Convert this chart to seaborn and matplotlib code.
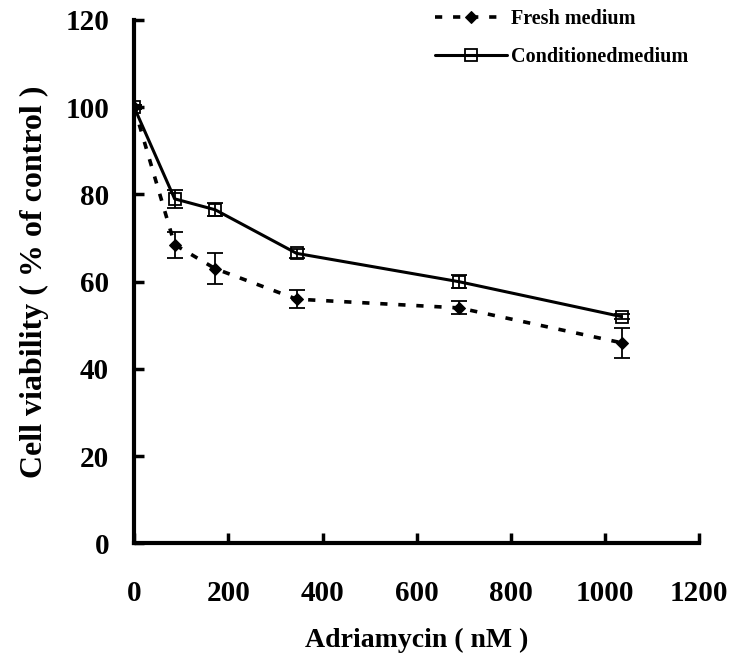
import numpy as np
import pandas as pd
import matplotlib
matplotlib.use("Agg")
import matplotlib.pyplot as plt
import seaborn as sns

conc = [0, 86, 172, 345, 690, 1035]
fresh = [100, 68.5, 63, 56, 54, 46]
fresh_err = [0.5, 3, 3.5, 2, 1.5, 3.5]
cond = [100, 79, 76.5, 66.5, 60, 52]
cond_err = [0.5, 2, 1.5, 1, 1.5, 0.5]
series_names = ["Fresh medium", "Conditionedmedium"]
xticks = [0, 200, 400, 600, 800, 1000, 1200]
yticks = [0, 20, 40, 60, 80, 100, 120]

sns.set_theme(style="white")
plt.rcParams['font.family'] = ['Liberation Serif', 'DejaVu Serif']
plt.rcParams['font.weight'] = 'bold'
plt.rcParams['text.color'] = 'black'
plt.rcParams['axes.labelcolor'] = 'black'
plt.rcParams['xtick.direction'] = 'in'
plt.rcParams['ytick.direction'] = 'in'

df = pd.DataFrame({
    "conc": conc * 2,
    "val": fresh + cond,
    "err": fresh_err + cond_err,
    "series": [series_names[0]] * len(conc) + [series_names[1]] * len(conc),
})

fig = plt.figure(figsize=(7.33, 6.66), dpi=100)
ax = fig.add_axes([0.183, 0.184, 0.771, 0.786])

sns.lineplot(data=df[df.series == series_names[0]], x="conc", y="val", ax=ax,
             color="black", linestyle=(0, (2.0, 3.0)), linewidth=2.6,
             marker="D", markersize=6, markeredgecolor="black",
             markerfacecolor="black", label=series_names[0])
sns.lineplot(data=df[df.series == series_names[1]], x="conc", y="val", ax=ax,
             color="black", linestyle="-", linewidth=2.2,
             marker="s", markersize=9, markeredgecolor="black",
             markerfacecolor="none", markeredgewidth=1.3, label=series_names[1])

for name in series_names:
    d = df[df.series == name]
    ax.errorbar(d["conc"], d["val"], yerr=d["err"], fmt="none",
                ecolor="black", elinewidth=1.3, capsize=6, capthick=1.3)

ax.set_xlim(0, 1200)
ax.set_ylim(0, 120)
ax.set_xticks(xticks)
ax.set_yticks(yticks)
ax.tick_params(axis="x", direction="in", length=7, width=2.5, labelsize=21,
               colors="black", bottom=True, pad=26)
ax.tick_params(axis="y", direction="in", length=7, width=2.5, labelsize=21,
               colors="black", left=True, pad=18)
for lab in ax.get_xticklabels() + ax.get_yticklabels():
    lab.set_fontweight("bold")

for s in ["top", "right"]:
    ax.spines[s].set_visible(False)
for s in ["left", "bottom"]:
    ax.spines[s].set_linewidth(3)
    ax.spines[s].set_color("black")

ax.set_xlabel("Adriamycin ( nM )", fontsize=20, fontweight="bold", labelpad=15)
ax.set_ylabel("Cell viability ( % of control )", fontsize=23, fontweight="bold", labelpad=12)

leg = ax.legend(loc="upper left", bbox_to_anchor=(0.5, 1.055), frameon=False,
                handlelength=3.6, labelspacing=0.9, handletextpad=0.2,
                prop={"weight": "bold", "size": 14.5})
for t in leg.get_texts():
    t.set_color("black")
ax.grid(False)

fig.savefig("out.png", dpi=100)
